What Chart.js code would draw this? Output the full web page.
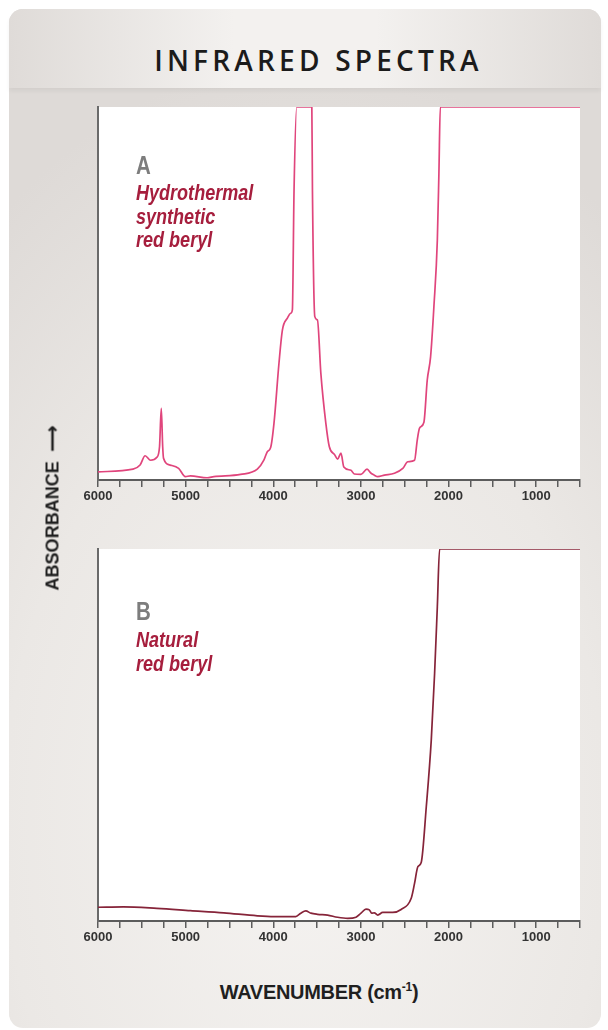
<!DOCTYPE html>
<html>
<head>
<meta charset="utf-8">
<script src="https://cdn.jsdelivr.net/npm/chart.js"></script>
<style>
  body { margin: 0; width: 608px; height: 1030px; background: #fff; position: relative; overflow: hidden; }
  #tarjeta { position: absolute; left: 9px; top: 9px; width: 592px; height: 1019px; border-radius: 14px;
    background: radial-gradient(ellipse 85% 75% at 50% 80%, #f5f3f1 0%, #ebe8e5 60%, #dedad7 100%); }
  #banda { position: absolute; left: 9px; top: 9px; width: 592px; height: 79px; border-radius: 14px 14px 0 0;
    background: linear-gradient(to right, #dfdbd8 0%, #f3f1ef 38%, #f3f1ef 62%, #dfdbd8 100%);
    box-shadow: 0 3px 4px rgba(0,0,0,0.05); }
  #titulo { position: absolute; left: 0; width: 637px; top: 41px; text-align: center;
    font: 600 28px "Open Sans", sans-serif; letter-spacing: 4.2px; color: #1b1b1b; }
  .panel { position: absolute; left: 0; width: 608px; height: 410px; }
  .etq { position: absolute; left: 136px; font-family: "Liberation Sans", Arial, sans-serif; font-weight: bold;
    transform: scaleX(0.82); transform-origin: left top; white-space: nowrap; }
  .letra { color: #7d7d7d; font-size: 25px; line-height: 25px; }
  .nombre { color: #a61e3d; font-size: 22px; font-style: italic; line-height: 23.5px; }
  #tituloY { position: absolute; left: 52px; top: 508px; transform: translate(-50%, -50%) rotate(-90deg) scaleX(0.95);
    white-space: nowrap; font: bold 19px "Liberation Sans", Arial, sans-serif; color: #1f1f1f; }
  #tituloX { position: absolute; left: 0; width: 638px; top: 980px; text-align: center; letter-spacing: -0.3px;
    font: bold 20px "Liberation Sans", Arial, sans-serif; color: #1f1f1f; }
  #tituloX sup { font-size: 12px; }
</style>
</head>
<body>
<div id="tarjeta"></div>
<div id="banda"></div>
<div id="titulo">INFRARED SPECTRA</div>

<div class="panel" style="top:100px"><canvas id="graficoA"></canvas></div>
<div class="panel" style="top:540px"><canvas id="graficoB"></canvas></div>

<div class="etq letra" style="top:153px">A</div>
<div class="etq nombre" style="top:181px">Hydrothermal<br>synthetic<br>red beryl</div>
<div class="etq letra" style="top:599px">B</div>
<div class="etq nombre" style="top:628px">Natural<br>red beryl</div>

<div id="tituloY">ABSORBANCE&nbsp;&nbsp;⟶</div>
<div id="tituloX">WAVENUMBER (cm<sup>-1</sup>)</div>

<script>
const ondaA = [6000, 5600, 5520, 5462, 5400, 5328, 5298, 5278, 5262, 5252, 5175, 5080, 5003, 4946, 4755, 4678,
  4373, 4182, 4106, 4068, 4030, 3992, 3935, 3896, 3839, 3801, 3782, 3763, 3732, 3560, 3553, 3526, 3496,
  3457, 3400, 3361, 3300, 3266, 3228, 3195, 3113, 3076, 2999, 2930, 2884, 2847, 2808, 2732, 2617, 2522,
  2465, 2388, 2357, 2331, 2281, 2243, 2205, 2167, 2128, 2110, 2094, 500];
const absA = [2.2, 2.9, 4.0, 6.5, 5.3, 6.1, 8.9, 19.2, 9.0, 5.8, 4.0, 3.1, 0.9, 1.1, 0.6, 0.9,
  1.5, 2.9, 5.4, 7.6, 8.7, 15.2, 31.3, 40.2, 43.4, 44.7, 45.6, 77.7, 100, 100, 77.7, 43.8, 42.9,
  28.6, 15.2, 9.0, 6.8, 5.6, 7.2, 3.5, 2.6, 1.6, 1.5, 2.9, 1.8, 1.3, 0.9, 1.3, 1.8, 3.1,
  4.9, 5.3, 10.7, 13.9, 15.5, 26.8, 33.0, 46.5, 64.3, 82.2, 100, 100];

const ondaB = [6000, 5710, 5328, 4946, 4565, 4182, 3992, 3743, 3686, 3629, 3571, 3495, 3380, 3266, 3151,
  3056, 2999, 2942, 2904, 2877, 2847, 2808, 2751, 2637, 2541, 2426, 2388, 2350, 2312, 2254, 2197,
  2159, 2128, 2102, 500];
const absB = [3.7, 3.8, 3.4, 2.8, 2.2, 1.4, 1.2, 1.2, 2.1, 2.7, 2.1, 1.8, 1.6, 1.0, 0.7,
  1.0, 2.1, 3.2, 3.0, 2.1, 2.2, 1.6, 2.3, 2.3, 3.1, 6.1, 10.1, 14.6, 15.7, 30.7, 48.7,
  66.6, 84.5, 100, 100];

// etiquetas del eje x
const etiquetasX = [6000, 5000, 4000, 3000, 2000, 1000];

const FUENTE = '"Liberation Sans", Arial, sans-serif';

function puntos(xs, ys) {
  return xs.map((x, i) => ({ x: x, y: ys[i] }));
}

// fondo blanco del area de trazado
const fondoBlanco = {
  id: 'fondoBlanco',
  beforeDraw(chart) {
    const { ctx, chartArea: a } = chart;
    ctx.save();
    ctx.fillStyle = '#ffffff';
    ctx.fillRect(a.left, a.top, a.right - a.left, a.bottom - a.top);
    ctx.restore();
  }
};

function crearGrafico(id, datos, color, padTop, padBottom) {
  return new Chart(document.getElementById(id), {
    type: 'line',
    data: {
      datasets: [{
        data: datos,
        borderColor: color,
        borderWidth: 1.7,
        pointRadius: 0,
        cubicInterpolationMode: 'monotone',
        fill: false
      }]
    },
    options: {
      responsive: true,
      maintainAspectRatio: false,
      animation: false,
      events: [],
      layout: { padding: { left: 98, right: 28, top: padTop, bottom: padBottom } },
      plugins: { legend: { display: false }, tooltip: { enabled: false } },
      scales: {
        x: {
          type: 'linear',
          reverse: true,
          min: 500,
          max: 6000,
          afterFit: s => { s.height = 25; },
          border: { display: true, color: '#5c5c5c', width: 2 },
          grid: { drawOnChartArea: false, drawTicks: true, tickLength: 7, color: '#5c5c5c', lineWidth: 1.5 },
          ticks: {
            stepSize: 250,
            autoSkip: false,
            maxRotation: 0,
            padding: 2,
            color: '#333',
            font: { family: FUENTE, size: 13, weight: 'bold' },
            callback: v => etiquetasX.includes(v) ? String(v) : ''
          }
        },
        y: {
          min: 0,
          max: 100,
          afterFit: s => { s.width = 0; },
          border: { display: true, color: '#6a6a6a', width: 2 },
          grid: { display: false },
          ticks: { display: false }
        }
      }
    },
    plugins: [fondoBlanco]
  });
}

crearGrafico('graficoA', puntos(ondaA, absA), '#e0457c', 7, 5);
crearGrafico('graficoB', puntos(ondaB, absB), '#862439', 9, 4);
</script>
</body>
</html>
